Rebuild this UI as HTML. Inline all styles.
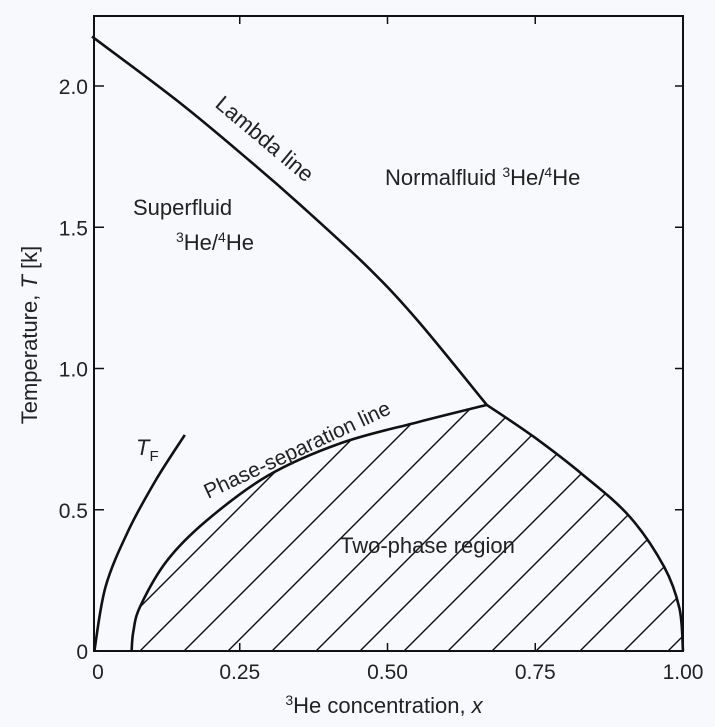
<!DOCTYPE html>
<html><head><meta charset="utf-8"><style>
body{margin:0;background:#f8f9fd;}
svg{display:block;font-family:"Liberation Sans",sans-serif;}
</style></head><body>
<svg id="chart" width="715" height="727" viewBox="0 0 715 727" xmlns="http://www.w3.org/2000/svg" style="position:absolute;left:0;top:0">
<rect width="715" height="727" fill="#f8f9fd"/>
<g id="plot"></g>
</svg>
<script>
const lambdaX=[0,0.149,0.267,0.352,0.466,0.551,0.668];
const lambdaT=[2.175,1.94,1.735,1.58,1.36,1.17,0.871];
const sepLeftX=[0.067,0.07,0.082,0.127,0.193,0.297,0.42,0.551,0.668];
const sepLeftT=[0,0.07,0.16,0.32,0.46,0.62,0.735,0.81,0.871];
const sepRightX=[0.668,0.747,0.831,0.91,0.968,0.994,1.0];
const sepRightT=[0.871,0.759,0.623,0.475,0.298,0.15,0];
const tfX=[0.004,0.023,0.062,0.108,0.157];
const tfT=[0,0.228,0.428,0.605,0.765];
const xTicks=[0,0.25,0.5,0.75,1.0];
const xTickLabels=["0","0.25","0.50","0.75","1.00"];
const yTicks=[0,0.5,1.0,1.5,2.0];
const yTickLabels=["0","0.5","1.0","1.5","2.0"];

const NS="http://www.w3.org/2000/svg";
const X=v=>92+v*591;
const Y=v=>651-v*282.5;
const g=document.getElementById('plot');
function mk(tag,attrs,parent){const e=document.createElementNS(NS,tag);for(const k in attrs)e.setAttribute(k,attrs[k]);(parent||g).appendChild(e);return e;}
function spline(xs,ts){
  const p=xs.map((x,i)=>[X(x),Y(ts[i])]);
  let d='M'+p[0][0].toFixed(1)+','+p[0][1].toFixed(1);
  for(let i=0;i<p.length-1;i++){
    const p0=p[Math.max(i-1,0)],p1=p[i],p2=p[i+1],p3=p[Math.min(i+2,p.length-1)];
    const c1=[p1[0]+(p2[0]-p0[0])/6,p1[1]+(p2[1]-p0[1])/6];
    const c2=[p2[0]-(p3[0]-p1[0])/6,p2[1]-(p3[1]-p1[1])/6];
    d+=' C'+c1.map(v=>v.toFixed(1)).join(',')+' '+c2.map(v=>v.toFixed(1)).join(',')+' '+p2[0].toFixed(1)+','+p2[1].toFixed(1);
  }
  return d;
}
const leftD=spline(sepLeftX,sepLeftT);
const rightD=spline(sepRightX,sepRightT);

const defs=mk('defs',{});
const cp=mk('clipPath',{id:'twophase'},defs);
mk('path',{d:leftD+' '+rightD.replace(/^M[^ ]+/,'L'+X(sepRightX[0]).toFixed(1)+','+Y(sepRightT[0]).toFixed(1))+' Z'},cp);
const hg=mk('g',{'clip-path':'url(#twophase)',stroke:'#111','stroke-width':'1.4'});


for(let bx=140-44*2;bx<720;bx+=44){
  const l=mk('line',{x1:bx,y1:651,x2:bx+300,y2:351},hg);
  
  
}

const fr=mk('rect',{x:94,y:16,width:589,height:635,fill:'none',stroke:'#111','stroke-width':'2'});



xTicks.forEach((v,i)=>{
  if(v>0&&v<1){
    const t1=mk('line',{x1:X(v),y1:651,x2:X(v),y2:643,stroke:'#111','stroke-width':'1.5'});
    
    
    const t2=mk('line',{x1:X(v),y1:16,x2:X(v),y2:24,stroke:'#111','stroke-width':'1.5'});
    
    
  }
  const tx=mk('text',{x:X(v)+(v===0?6:0),y:679,'text-anchor':'middle','font-size':'21',fill:'#222'});
  tx.textContent=xTickLabels[i];
  
  
});
yTicks.forEach((v,i)=>{
  if(v>0){
    const t1=mk('line',{x1:94,y1:Y(v),x2:104,y2:Y(v),stroke:'#111','stroke-width':'1.5'});
    
    
    const t2=mk('line',{x1:683,y1:Y(v),x2:675,y2:Y(v),stroke:'#111','stroke-width':'1.5'});
    
    
  }
  const ty=mk('text',{x:88,y:Y(v)+8,'text-anchor':'end','font-size':'21',fill:'#222'});
  ty.textContent=yTickLabels[i];
  
  
});

const lam=mk('path',{d:spline(lambdaX,lambdaT),fill:'none',stroke:'#111','stroke-width':'2.6'});


const sl=mk('path',{d:leftD,fill:'none',stroke:'#111','stroke-width':'2.6'});


const sr=mk('path',{d:rightD,fill:'none',stroke:'#111','stroke-width':'2.6'});


const tf=mk('path',{d:spline(tfX,tfT),fill:'none',stroke:'#111','stroke-width':'2.6'});


</script>
<svg style="position:absolute;left:0;top:0" width="715" height="727">
<g font-family="Liberation Sans, sans-serif" fill="#222">
<text x="214" y="106" font-size="22" transform="rotate(40 214 106)">Lambda line</text>
<text x="385" y="185" font-size="22">Normalfluid <tspan font-size="14" dy="-8">3</tspan><tspan dy="8">He/</tspan><tspan font-size="14" dy="-8">4</tspan><tspan dy="8">He</tspan></text>
<text x="133" y="215" font-size="22">Superfluid</text>
<text x="176" y="250" font-size="22"><tspan font-size="14" dy="-8">3</tspan><tspan dy="8">He/</tspan><tspan font-size="14" dy="-8">4</tspan><tspan dy="8">He</tspan></text>
<text x="208" y="499" font-size="21" transform="rotate(-25 208 499)">Phase-separation line</text>
<text x="136" y="455" font-size="22" font-style="italic">T<tspan font-size="15" font-style="normal" dy="6">F</tspan></text>
<text x="340" y="553" font-size="22">Two-phase region</text>
<text x="384" y="713" font-size="22" text-anchor="middle"><tspan font-size="14" dy="-8">3</tspan><tspan dy="8">He concentration, </tspan><tspan font-style="italic">x</tspan></text>
<text x="0" y="0" font-size="22" text-anchor="middle" transform="translate(37 335) rotate(-90)">Temperature, <tspan font-style="italic">T</tspan> [k]</text>
</g>
</svg>
</body></html>
